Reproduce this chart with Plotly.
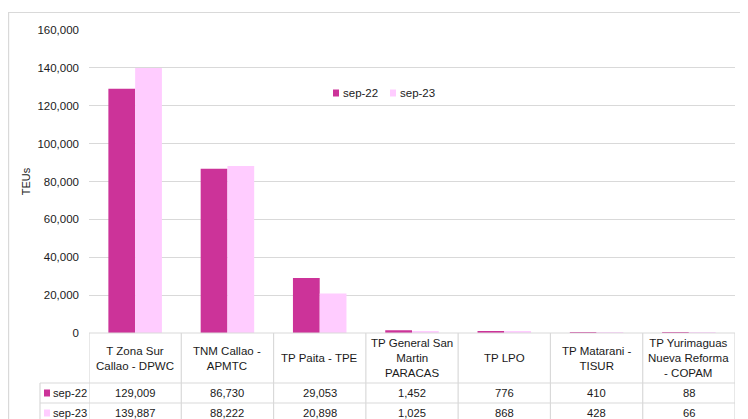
import plotly.graph_objects as go

categories = [
    "T Zona Sur<br>Callao - DPWC",
    "TNM Callao -<br>APMTC",
    "TP Paita - TPE",
    "TP General San<br>Martin<br>PARACAS",
    "TP LPO",
    "TP Matarani -<br>TISUR",
    "TP Yurimaguas<br>Nueva Reforma<br>- COPAM",
]
series_names = ["sep-22", "sep-23"]
sep22 = [129009, 86730, 29053, 1452, 776, 410, 88]
sep23 = [139887, 88222, 20898, 1025, 868, 428, 66]
y_ticks = [0, 20000, 40000, 60000, 80000, 100000, 120000, 140000, 160000]

colors = ["#CC3399", "#FFCCFF"]
FONT = "Liberation Sans, Arial, sans-serif"
TXT = "#1a1a1a"
LINE = "#D9D9D9"
TS = 11.2  # table / legend text size

# page offset of the figure inside the browser (body margin)
OFF = 8
W, H = 748 - OFF, 419 - OFF
# plot area in page pixels
PL, PR, PT, PB = 89, 735, 30, 333


def px_x(p):
    return (p - PL) / (PR - PL)


def px_y(p):
    return (PB - p) / (PB - PT)


xs = list(range(len(categories)))
fig = go.Figure()
for name, vals, col in zip(series_names, [sep22, sep23], colors):
    fig.add_trace(go.Bar(x=xs, y=vals, name=name, marker=dict(color=col, line=dict(width=0)),
                         showlegend=False))

shapes = []
annotations = []

# outer border
shapes.append(dict(type="rect", xref="paper", yref="paper",
                   x0=px_x(8.6), x1=px_x(780), y0=px_y(460), y1=px_y(12.5),
                   line=dict(color=LINE, width=1.2), layer="below"))

# table horizontal lines
for yy, xl in [(PB, PL), (383, 40), (403, 40), (423, 40)]:
    shapes.append(dict(type="line", xref="paper", yref="paper",
                       x0=px_x(xl), x1=1, y0=px_y(yy), y1=px_y(yy),
                       line=dict(color=LINE, width=1.2)))
# table vertical lines at category boundaries
for i in range(len(categories) + 1):
    shapes.append(dict(type="line", xref="x", yref="paper",
                       x0=i - 0.5, x1=i - 0.5, y0=px_y(PB), y1=px_y(440),
                       line=dict(color=LINE, width=1.2)))
shapes.append(dict(type="line", xref="paper", yref="paper",
                   x0=px_x(40), x1=px_x(40), y0=px_y(383), y1=px_y(440),
                   line=dict(color=LINE, width=1.2)))

# header text
for i, c in enumerate(categories):
    annotations.append(dict(x=i, y=px_y(358), xref="x", yref="paper", text=c,
                            showarrow=False, font=dict(family=FONT, size=TS + 0.3, color=TXT),
                            align="center", yanchor="middle"))

# value rows
for r, (name, vals, col) in enumerate(zip(series_names, [sep22, sep23], colors)):
    yc = 393 + 20 * r
    for i, v in enumerate(vals):
        annotations.append(dict(x=i, y=px_y(yc), xref="x", yref="paper", text=f"{v:,}",
                                showarrow=False, font=dict(family=FONT, size=TS, color=TXT),
                                yanchor="middle"))
    shapes.append(dict(type="rect", xref="paper", yref="paper", x0=px_x(44), x1=px_x(50),
                       y0=px_y(yc + 3.5), y1=px_y(yc - 3.5), fillcolor=col, line=dict(width=0)))
    annotations.append(dict(x=px_x(51), y=px_y(yc), xref="paper", yref="paper", text=name,
                            showarrow=False, xanchor="left", yanchor="middle",
                            font=dict(family=FONT, size=TS, color=TXT)))

# legend
for name, col, lx in zip(series_names, colors, [333, 390]):
    shapes.append(dict(type="rect", xref="paper", yref="paper", x0=px_x(lx), x1=px_x(lx + 6),
                       y0=px_y(96.5), y1=px_y(89.5), fillcolor=col, line=dict(width=0)))
    annotations.append(dict(x=px_x(lx + 8), y=px_y(93), xref="paper", yref="paper", text=name,
                            showarrow=False, xanchor="left", yanchor="middle",
                            font=dict(family=FONT, size=TS + 0.3, color=TXT)))

fig.update_layout(
    width=W, height=H,
    margin=dict(l=PL - OFF, r=W - (PR - OFF), t=PT - OFF, b=H - (PB - OFF), pad=0),
    paper_bgcolor="white", plot_bgcolor="white",
    barmode="group", bargap=0.42, bargroupgap=0,
    shapes=shapes, annotations=annotations,
    font=dict(family=FONT, color=TXT),
    xaxis=dict(range=[-0.5, len(categories) - 0.5], showticklabels=False, showgrid=False,
               zeroline=False, showline=False, ticks=""),
    yaxis=dict(range=[0, 160000], tickvals=y_ticks, tickformat=",", showgrid=True,
               gridcolor=LINE, gridwidth=1.2, zeroline=False, showline=False,
               ticklabelstandoff=9, tickfont=dict(family=FONT, size=11.5, color=TXT),
               title=dict(text="TEUs", font=dict(family=FONT, size=11, color=TXT), standoff=4)),
)

fig.write_html("out.html")
